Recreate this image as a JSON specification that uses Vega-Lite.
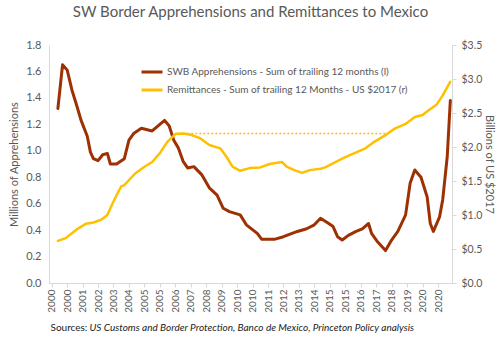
{
  "$schema": "https://vega.github.io/schema/vega-lite/v6.json",
  "width": 403,
  "height": 238,
  "autosize": {"type": "none"},
  "padding": {"left": 49, "top": 45, "right": 48, "bottom": 66},
  "title": {"text": "SW Border Apprehensions and Remittances to Mexico", "fontSize": 15, "font": "Lato", "fontWeight": "normal", "color": "#595959", "offset": 19},
  "config": {
    "view": {"stroke": null},
    "axis": {"labelColor": "#595959", "labelFont": "Lato", "labelFontSize": 11, "domainColor": "#D9D9D9", "tickColor": "#D9D9D9", "grid": false, "titleColor": "#595959", "titleFont": "Lato", "titleFontSize": 11, "titleFontWeight": "normal"},
    "legend": {"labelFont": "Lato"}
  },
  "datasets": {
    "appr": [
      {"date": "2000-05-01", "value": 1.32},
      {"date": "2000-08-01", "value": 1.65},
      {"date": "2000-11-01", "value": 1.61},
      {"date": "2001-02-01", "value": 1.46},
      {"date": "2001-05-01", "value": 1.35},
      {"date": "2001-08-01", "value": 1.23},
      {"date": "2001-12-01", "value": 1.11},
      {"date": "2002-02-01", "value": 0.99},
      {"date": "2002-04-01", "value": 0.94},
      {"date": "2002-07-01", "value": 0.925},
      {"date": "2002-10-01", "value": 0.97},
      {"date": "2003-01-01", "value": 0.98},
      {"date": "2003-03-01", "value": 0.9},
      {"date": "2003-07-01", "value": 0.9},
      {"date": "2003-12-01", "value": 0.94},
      {"date": "2004-03-01", "value": 1.08},
      {"date": "2004-06-01", "value": 1.13},
      {"date": "2004-11-01", "value": 1.17},
      {"date": "2005-06-01", "value": 1.15},
      {"date": "2005-10-01", "value": 1.19},
      {"date": "2006-02-01", "value": 1.23},
      {"date": "2006-05-01", "value": 1.19},
      {"date": "2006-08-01", "value": 1.08},
      {"date": "2006-11-01", "value": 1.02},
      {"date": "2007-02-01", "value": 0.92},
      {"date": "2007-05-01", "value": 0.87},
      {"date": "2007-09-01", "value": 0.88},
      {"date": "2008-02-01", "value": 0.82},
      {"date": "2008-07-01", "value": 0.72},
      {"date": "2008-12-01", "value": 0.665},
      {"date": "2009-04-01", "value": 0.565},
      {"date": "2009-08-01", "value": 0.54},
      {"date": "2010-03-01", "value": 0.515},
      {"date": "2010-07-01", "value": 0.44},
      {"date": "2011-02-01", "value": 0.375},
      {"date": "2011-05-01", "value": 0.33},
      {"date": "2012-01-01", "value": 0.33},
      {"date": "2012-07-01", "value": 0.35},
      {"date": "2013-04-01", "value": 0.39},
      {"date": "2013-10-01", "value": 0.41},
      {"date": "2014-03-01", "value": 0.44},
      {"date": "2014-07-01", "value": 0.49},
      {"date": "2014-11-01", "value": 0.46},
      {"date": "2015-03-01", "value": 0.43},
      {"date": "2015-06-01", "value": 0.35},
      {"date": "2015-09-01", "value": 0.325},
      {"date": "2016-01-01", "value": 0.36},
      {"date": "2016-06-01", "value": 0.39},
      {"date": "2016-10-01", "value": 0.41},
      {"date": "2017-02-01", "value": 0.45},
      {"date": "2017-04-01", "value": 0.375},
      {"date": "2017-08-01", "value": 0.31},
      {"date": "2018-01-01", "value": 0.245},
      {"date": "2018-05-01", "value": 0.325},
      {"date": "2018-09-01", "value": 0.39},
      {"date": "2019-02-01", "value": 0.515},
      {"date": "2019-05-01", "value": 0.755},
      {"date": "2019-08-01", "value": 0.855},
      {"date": "2019-12-01", "value": 0.8},
      {"date": "2020-04-01", "value": 0.65},
      {"date": "2020-06-01", "value": 0.45},
      {"date": "2020-08-01", "value": 0.39},
      {"date": "2020-12-01", "value": 0.5},
      {"date": "2021-02-01", "value": 0.63},
      {"date": "2021-05-01", "value": 0.955},
      {"date": "2021-07-01", "value": 1.38}
    ],
    "remit": [
      {"date": "2000-05-01", "value": 0.62},
      {"date": "2000-10-01", "value": 0.66},
      {"date": "2001-02-01", "value": 0.73},
      {"date": "2001-06-01", "value": 0.8},
      {"date": "2001-11-01", "value": 0.87},
      {"date": "2002-04-01", "value": 0.89},
      {"date": "2002-09-01", "value": 0.93},
      {"date": "2003-01-01", "value": 1.0},
      {"date": "2003-04-01", "value": 1.15},
      {"date": "2003-07-01", "value": 1.29},
      {"date": "2003-10-01", "value": 1.42},
      {"date": "2003-12-01", "value": 1.44},
      {"date": "2004-07-01", "value": 1.61},
      {"date": "2005-01-01", "value": 1.71},
      {"date": "2005-06-01", "value": 1.78},
      {"date": "2005-11-01", "value": 1.91},
      {"date": "2006-04-01", "value": 2.08},
      {"date": "2006-09-01", "value": 2.19},
      {"date": "2007-02-01", "value": 2.2},
      {"date": "2007-07-01", "value": 2.18},
      {"date": "2008-01-01", "value": 2.13},
      {"date": "2008-07-01", "value": 2.03},
      {"date": "2009-02-01", "value": 1.98},
      {"date": "2009-06-01", "value": 1.86},
      {"date": "2009-10-01", "value": 1.71},
      {"date": "2010-03-01", "value": 1.65},
      {"date": "2010-09-01", "value": 1.69},
      {"date": "2011-04-01", "value": 1.7},
      {"date": "2011-10-01", "value": 1.75},
      {"date": "2012-06-01", "value": 1.78},
      {"date": "2012-09-01", "value": 1.71},
      {"date": "2013-02-01", "value": 1.66},
      {"date": "2013-07-01", "value": 1.62},
      {"date": "2013-12-01", "value": 1.66},
      {"date": "2014-07-01", "value": 1.68},
      {"date": "2014-10-01", "value": 1.7},
      {"date": "2015-04-01", "value": 1.77},
      {"date": "2015-11-01", "value": 1.85},
      {"date": "2016-05-01", "value": 1.91},
      {"date": "2016-12-01", "value": 1.98},
      {"date": "2017-06-01", "value": 2.08},
      {"date": "2018-02-01", "value": 2.19},
      {"date": "2018-07-01", "value": 2.27},
      {"date": "2019-02-01", "value": 2.34},
      {"date": "2019-08-01", "value": 2.44},
      {"date": "2020-01-01", "value": 2.47},
      {"date": "2020-05-01", "value": 2.54},
      {"date": "2020-10-01", "value": 2.62},
      {"date": "2021-02-01", "value": 2.76},
      {"date": "2021-07-01", "value": 2.96}
    ],
    "peak": [
      {"start": "2006-09-01", "end": "2018-02-01", "value": 2.2}
    ]
  },
  "layer": [
    {
      "data": {"name": "appr"},
      "mark": {"type": "line", "strokeWidth": 3, "strokeJoin": "round", "strokeCap": "round"},
      "encoding": {
        "x": {
          "field": "date", "type": "temporal",
          "scale": {"type": "utc", "domain": [{"year": 1999, "month": 11, "date": 8, "utc": true}, {"year": 2021, "month": 8, "date": 3, "utc": true}]},
          "axis": {
            "values": [
              {"year": 2000, "month": 1, "date": 1, "utc": true},
              {"year": 2000, "month": 11, "date": 1, "utc": true},
              {"year": 2001, "month": 9, "date": 1, "utc": true},
              {"year": 2002, "month": 7, "date": 1, "utc": true},
              {"year": 2003, "month": 5, "date": 1, "utc": true},
              {"year": 2004, "month": 3, "date": 1, "utc": true},
              {"year": 2005, "month": 1, "date": 1, "utc": true},
              {"year": 2005, "month": 11, "date": 1, "utc": true},
              {"year": 2006, "month": 9, "date": 1, "utc": true},
              {"year": 2007, "month": 7, "date": 1, "utc": true},
              {"year": 2008, "month": 5, "date": 1, "utc": true},
              {"year": 2009, "month": 3, "date": 1, "utc": true},
              {"year": 2010, "month": 1, "date": 1, "utc": true},
              {"year": 2010, "month": 11, "date": 1, "utc": true},
              {"year": 2011, "month": 9, "date": 1, "utc": true},
              {"year": 2012, "month": 7, "date": 1, "utc": true},
              {"year": 2013, "month": 5, "date": 1, "utc": true},
              {"year": 2014, "month": 3, "date": 1, "utc": true},
              {"year": 2015, "month": 1, "date": 1, "utc": true},
              {"year": 2015, "month": 11, "date": 1, "utc": true},
              {"year": 2016, "month": 9, "date": 1, "utc": true},
              {"year": 2017, "month": 7, "date": 1, "utc": true},
              {"year": 2018, "month": 5, "date": 1, "utc": true},
              {"year": 2019, "month": 3, "date": 1, "utc": true},
              {"year": 2020, "month": 1, "date": 1, "utc": true},
              {"year": 2020, "month": 11, "date": 1, "utc": true}
            ],
            "format": "%Y", "labelAngle": -90, "labelFontSize": 10, "tickSize": 4, "labelPadding": 2,
            "labelOverlap": false, "labelFlush": false,
            "title": "Sources:", "titleAnchor": "start", "titleAlign": "left", "titleBaseline": "middle",
            "titleX": 1, "titleY": 44, "titleFontSize": 10, "titleColor": "#222222"
          }
        },
        "y": {
          "field": "value", "type": "quantitative",
          "scale": {"domain": [0, 1.8], "nice": false, "zero": true},
          "axis": {"title": "Millions of Apprehensions", "values": [0, 0.2, 0.4, 0.6, 0.8, 1.0, 1.2, 1.4, 1.6, 1.8], "format": ".1f", "ticks": false, "labelPadding": 8, "titlePadding": 6, "labelOverlap": false}
        },
        "color": {
          "datum": "SWB Apprehensions - Sum of trailing 12 months (l)",
          "scale": {"domain": ["SWB Apprehensions - Sum of trailing 12 months (l)", "Remittances - Sum of trailing 12 Months - US $2017 (r)"], "range": ["#9E3103", "#FFC000"]},
          "legend": {"orient": "none", "legendX": 91, "legendY": 15, "title": null, "symbolType": "stroke", "symbolStrokeWidth": 3, "symbolSize": 441, "labelFontSize": 10, "labelLimit": 400, "labelColor": "#595959", "rowPadding": -2, "labelOffset": 3, "padding": 0}
        }
      }
    },
    {
      "encoding": {
        "y": {
          "field": "value", "type": "quantitative",
          "scale": {"domain": [0, 3.5], "nice": false, "zero": true},
          "axis": {"orient": "right", "title": "Billions of US $2017", "values": [0, 0.5, 1.0, 1.5, 2.0, 2.5, 3.0, 3.5], "format": "$.1f", "tickSize": 4, "labelPadding": 5, "titlePadding": 2, "labelOverlap": false, "labelFontSize": 10.5}
        }
      },
      "layer": [
        {
          "data": {"name": "remit"},
          "mark": {"type": "line", "strokeWidth": 2.5, "strokeJoin": "round", "strokeCap": "round"},
          "encoding": {
            "x": {
              "field": "date", "type": "temporal",
              "axis": {"orient": "bottom", "labels": false, "ticks": false, "domain": false, "title": "US Customs and Border Protection, Banco de Mexico, Princeton Policy analysis", "titleFontStyle": "italic", "titleAnchor": "start", "titleAlign": "left", "titleBaseline": "middle", "titleX": 40, "titleY": 44, "titleFontSize": 10, "titleColor": "#222222"}
            },
            "color": {"datum": "Remittances - Sum of trailing 12 Months - US $2017 (r)"}
          }
        },
        {
          "data": {"name": "peak"},
          "mark": {"type": "rule", "color": "#FFC000", "strokeWidth": 1.5, "strokeDash": [2, 2]},
          "encoding": {
            "x": {"field": "start", "type": "temporal"},
            "x2": {"field": "end"}
          }
        }
      ]
    }
  ],
  "resolve": {"scale": {"y": "independent"}, "axis": {"x": "independent"}}
}
